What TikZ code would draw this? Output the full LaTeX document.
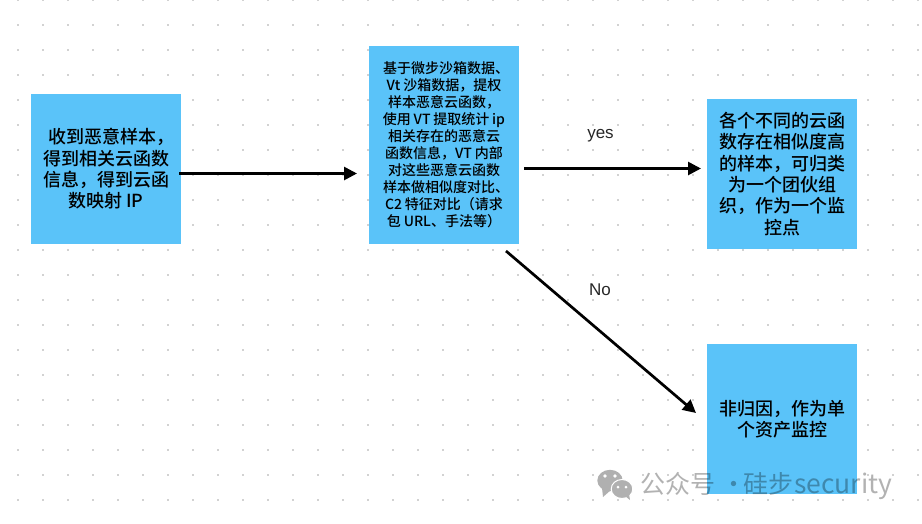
\documentclass[tikz,border=0pt]{standalone}
\usepackage{fontspec}
\setmainfont{Noto Sans CJK SC}
\newfontfamily\boxfont{Noto Sans CJK SC Medium}
\newfontfamily\labelfont{Liberation Sans}
\usetikzlibrary{arrows.meta,positioning}
\definecolor{boxblue}{HTML}{5AC3F9}
\definecolor{dotgray}{HTML}{D2D2D2}
\definecolor{markgray}{HTML}{B0B0B0}
\tikzset{
  flowarr/.style={-{Triangle[length=13pt,width=13pt]}, line width=2.7pt, draw=black},
  flowbox/.style={fill=boxblue, align=center, inner sep=0pt, outer sep=0pt, minimum width=150pt, minimum height=150pt},
  edgelabel/.style={font=\labelfont\fontsize{17pt}{19pt}\selectfont, text=black!85, inner sep=0pt},
}

\begin{document}
\begin{tikzpicture}[
  x=1pt, y=1pt,
  font=\boxfont\fontsize{18pt}{21.3pt}\selectfont,
  node distance=95pt and 188pt,
]
  \useasboundingbox (0,0) rectangle (922,-523);
  % dotted canvas
  \foreach \i in {0,...,36}
    \foreach \j in {0,...,20}
      \fill[dotgray] ({17+25*\i},{-1-25*\j}) rectangle ++(2,2);

  \node[flowbox] (recv) at (106,-169) {\hspace*{12pt}收到恶意样本，\\得到相关云函数\\信息，得到云函\\数映射\hspace{0.2em}IP};
  \node[flowbox, minimum height=198pt, font=\boxfont\fontsize{14pt}{17pt}\selectfont, right=of recv, yshift=24pt] (vt)
    {\hspace*{4pt}基于微步沙箱数据、\\Vt\hspace{0.2em}沙箱数据，提权\\样本恶意云函数，\\使用\hspace{0.2em}VT\hspace{0.2em}提取统计\hspace{0.2em}ip\\相关存在的恶意云\\函数信息，VT\hspace{0.2em}内部\\对这些恶意云函数\\\hspace*{4pt}样本做相似度对比、\\C2\hspace{0.2em}特征对比（请求\\包\hspace{0.2em}URL、手法等）};
  \node[flowbox, right=of vt, yshift=-29pt] (group) {各个不同的云函\\数存在相似度高\\的样本，可归类\\为一个团伙组\\织，作为一个监\\控点};
  \node[flowbox, below=of group] (single) {非归因，作为单\\个资产监控};

  \draw[flowarr] ([xshift=-2pt,yshift=-4.5pt]recv.east) -- ([xshift=-12pt,yshift=-28.5pt]vt.west);
  \draw[flowarr] ([xshift=5pt,yshift=-23.5pt]vt.east) -- ([xshift=-6pt,yshift=5.5pt]group.west);
  \draw[flowarr] ([xshift=-13pt,yshift=-7pt]vt.south east) -- ([xshift=-11pt,yshift=6pt]single.west);
  \node[edgelabel] (yes) at (600.5,-136) {yes};
  \node[edgelabel] (no) at (600,-290) {No};

  % watermark
  \fill[markgray] (610,-480.5) ellipse (12.7 and 10.7);
  \fill[markgray] (602,-488) -- (603,-497) -- (611,-490) -- cycle;
  \fill[white] (605,-476) circle (1.8) (615,-476) circle (1.8);
  \fill[markgray, draw=white, line width=1pt] (622,-489) ellipse (10.8 and 9.5);
  \fill[markgray] (625,-496) -- (630,-500) -- (629,-494) -- cycle;
  \fill[white] (618,-487) circle (1.5) (626,-487) circle (1.5);
  \node[anchor=west, inner sep=0pt, text=black, text opacity=0.3, font=\fontspec{Noto Sans CJK SC}\fontsize{25pt}{28pt}\selectfont] (mark) at (640,-486) {公众号\hspace{6pt}·\hspace{-3pt}硅步\hspace{1pt}{\fontsize{26.5pt}{28pt}\selectfont security}};
\end{tikzpicture}
\end{document}
